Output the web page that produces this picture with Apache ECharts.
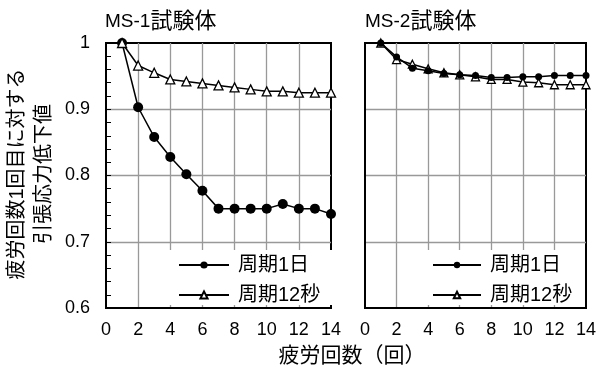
<!DOCTYPE html>
<html><head><meta charset="utf-8">
<script src="https://cdn.jsdelivr.net/npm/echarts@6/dist/echarts.min.js"></script>
<style>html,body{margin:0;padding:0;background:#fff}#c{width:600px;height:366px}</style>
</head><body><div id="c"></div>
<script>
const cycles = [1,2,3,4,5,6,7,8,9,10,11,12,13,14];
const ms1Day = [1.000,0.903,0.858,0.828,0.802,0.777,0.750,0.750,0.750,0.750,0.757,0.750,0.750,0.742];
const ms1Sec = [1.000,0.966,0.955,0.945,0.942,0.939,0.936,0.933,0.930,0.927,0.927,0.925,0.925,0.925];
const ms2Day = [1.000,0.979,0.962,0.958,0.954,0.952,0.951,0.948,0.948,0.949,0.949,0.951,0.951,0.951];
const ms2Sec = [1.000,0.975,0.968,0.961,0.955,0.952,0.949,0.945,0.945,0.941,0.940,0.937,0.937,0.937];
const panelTitles = ['MS-1', 'MS-2'];
const titleSuffix = '試験体';
const seriesNames = ['周期1日', '周期12秒'];
const xName = '疲労回数（回）';
const yName = ['疲労回数1回目に対する', '引張応力低下値'];

const FF = "'Liberation Sans', Arial, 'Noto Sans CJK JP', sans-serif";
const pts = arr => cycles.map((c, i) => [c, arr[i]]);

function xAx(i) {
  return {gridIndex: i, type: 'value', min: 0, max: 14, interval: 2,
    axisLine: {show: true, lineStyle: {color: '#000', width: 2}},
    axisTick: {show: false},
    axisLabel: {fontSize: 18, color: '#000', margin: 13, fontFamily: FF},
    splitLine: {show: true, showMinLine: false, showMaxLine: false, lineStyle: {color: '#999', width: 1.3}}};
}
function yAx(i, labels) {
  return {gridIndex: i, type: 'value', min: 0.6, max: 1, interval: 0.1,
    axisLine: {show: true, lineStyle: {color: '#000', width: 2}},
    axisTick: {show: labels, inside: true, length: 5, lineStyle: {color: '#000', width: 1}},
    minorTick: {show: labels, splitNumber: 5, length: 5, lineStyle: {color: '#000', width: 1}},
    axisLabel: {show: labels, fontSize: 18, color: '#000', margin: 16, fontFamily: FF},
    splitLine: {show: true, showMinLine: false, showMaxLine: false, lineStyle: {color: '#999', width: 1.3}}};
}
function circ(name, data, gi, size, z) {
  return {type: 'line', name, data: pts(data), xAxisIndex: gi, yAxisIndex: gi, clip: false,
    symbol: 'circle', symbolSize: size, showAllSymbol: true, z,
    itemStyle: {color: '#000'}, lineStyle: {color: '#000', width: 1.5}};
}
function tri(name, data, gi, size, z) {
  return {type: 'line', name, data: pts(data), xAxisIndex: gi, yAxisIndex: gi, clip: false,
    symbol: 'triangle', symbolSize: size, showAllSymbol: true, z,
    itemStyle: {color: '#fff', borderColor: '#000', borderWidth: 1.3}, lineStyle: {color: '#000', width: 1.5}};
}
function titleOf(i, left) {
  return {text: '{a|' + panelTitles[i] + '}{b|' + titleSuffix + '}', left, top: 11, padding: 0,
    textStyle: {fontWeight: 'normal', rich: {
      a: {fontSize: 19, color: '#000', fontFamily: FF, fontWeight: 'normal'},
      b: {fontSize: 22, color: '#000', fontFamily: FF, fontWeight: 'normal'}}}};
}
const legendText = {fontSize: 20, color: '#000', fontFamily: FF, padding: [0, 0, 0, 4]};
const rName = n => n + ' ';

const chart = echarts.init(document.getElementById('c'), null, {renderer: 'canvas'});
chart.setOption({
  animation: false,
  backgroundColor: '#fff',
  title: [titleOf(0, 105), titleOf(1, 365)],
  grid: [
    {left: 106, top: 43, width: 225, height: 265, show: true, borderColor: '#000', borderWidth: 2},
    {left: 365, top: 43, width: 221, height: 265, show: true, borderColor: '#000', borderWidth: 2}
  ],
  xAxis: [xAx(0), xAx(1)],
  yAxis: [yAx(0, true), yAx(1, false)],
  legend: [
    {data: seriesNames, orient: 'vertical', left: 150, top: 250, padding: [5, 14, 0, 28],
      itemWidth: 50, itemHeight: 9, itemGap: 10, backgroundColor: '#fff', textStyle: legendText, z: 5},
    {data: seriesNames.map(rName), orient: 'vertical', left: 410, top: 250, padding: [5, 6, 0, 22],
      itemWidth: 48, itemHeight: 8, itemGap: 10, backgroundColor: '#fff', textStyle: legendText, z: 5}
  ],
  series: [
    circ(seriesNames[0], ms1Day, 0, 10, 3),
    tri(seriesNames[1], ms1Sec, 0, 9, 4),
    tri(rName(seriesNames[1]), ms2Sec, 1, 8, 3),
    circ(rName(seriesNames[0]), ms2Day, 1, 7, 4)
  ],
  graphic: [
    {type: 'text', x: 352, y: 356, style: {text: xName, fontSize: 21, fontFamily: FF, fill: '#000', align: 'center', verticalAlign: 'middle'}},
    {type: 'text', x: 31, y: 174, rotation: Math.PI / 2,
      style: {text: yName.join('\n'), fontSize: 20, lineHeight: 27, fontFamily: FF, fill: '#000', align: 'center', verticalAlign: 'middle'}}
  ]
});
</script></body></html>
